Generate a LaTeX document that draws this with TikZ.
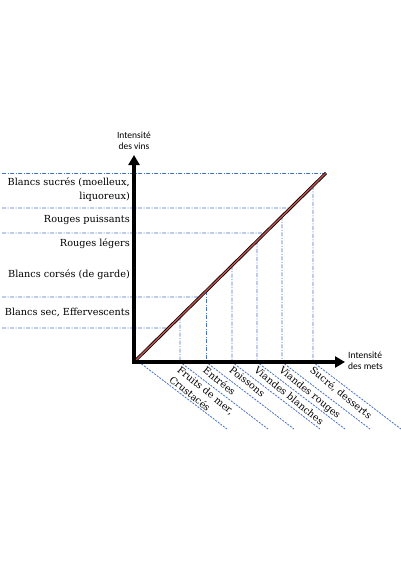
\documentclass[tikz,border=0pt]{standalone}
\usepackage{fontspec}
\setmainfont{DejaVu Serif}
\newfontfamily\axisfont{Carlito}
\usetikzlibrary{arrows.meta,calc}
\definecolor{guide}{RGB}{68,114,196}
\definecolor{diagred}{RGB}{192,80,77}
\begin{document}
\begin{tikzpicture}[x=1pt,y=-1pt,
  axis/.style={line width=3.5pt,line join=miter,{Triangle[length=10pt,width=11pt]}-{Triangle[length=10pt,width=11pt]}},
  guideline/.style={guide,line width=0.9pt,dash pattern=on 4pt off 1.5pt on 1pt off 1.5pt},
  slant/.style={guide,line width=0.8pt,dash pattern=on 2pt off 1.2pt},
  winelabel/.style={font=\fontsize{9.7}{14}\selectfont,anchor=east,align=right,inner sep=0pt},
  foodlabel/.style={font=\fontsize{9.7}{12.5}\selectfont,anchor=north west,rotate=-39,inner sep=1pt,align=left},
  axislabel/.style={font=\axisfont\fontsize{9.5}{11}\selectfont,inner sep=0pt}]
\useasboundingbox (0,0) rectangle (400,562);

% main points
\coordinate (O) at (134,362);
\coordinate (D) at (326,173);
\coordinate (Ytop) at (134,155);
\coordinate (Xend) at (345,362);

% horizontal guides
\coordinate (hL1) at (2,173); \coordinate (hR1) at ($(O)!1!(D)$);
\coordinate (hL2) at (2,208); \coordinate (hR2) at ($(O)!0.8148!(D)$);
\coordinate (hL3) at (2,233); \coordinate (hR3) at ($(O)!0.6825!(D)$);
\coordinate (hL4) at (2,297); \coordinate (hR4) at ($(O)!0.3439!(D)$);
\coordinate (hL5) at (2,328); \coordinate (hR5) at ($(O)!0.1799!(D)$);
\foreach \i in {1,...,5}{\draw[guideline] (hL\i) -- (hR\i);}

% vertical guides and slanted continuations
\coordinate (vT1) at ($(O)!0.2396!(D)$); \coordinate (vF1) at (180,362);
\coordinate (vT2) at ($(O)!0.3750!(D)$); \coordinate (vF2) at (206,362);
\coordinate (vT3) at ($(O)!0.5104!(D)$); \coordinate (vF3) at (232,362);
\coordinate (vT4) at ($(O)!0.6406!(D)$); \coordinate (vF4) at (257,362);
\coordinate (vT5) at ($(O)!0.7708!(D)$); \coordinate (vF5) at (282,362);
\coordinate (vT6) at ($(O)!0.9323!(D)$); \coordinate (vF6) at (313,362);
\coordinate (vF0) at (139,362);
\foreach \i in {1,...,6}{\draw[guideline] (vT\i) -- (vF\i);}
\foreach \i in {0,...,6}{
  \coordinate (sE\i) at ($(vF\i)+(88,67)$);
  \draw[slant] (vF\i) -- (sE\i);}

% diagonal
\draw[line width=3pt,black] (O) -- (D);
\draw[line width=1.4pt,diagred] (O) -- (D);

% axes
\draw[axis] (Ytop) -- (O) -- (Xend);

% axis labels
\node[axislabel,align=center] (ylab) at (134,141) {Intensité\\des vins};
\node[axislabel,align=left,anchor=west] (xlab) at (348,361) {Intensité\\des mets};

% wine labels
\node[winelabel] (w1) at (130,190) {Blancs sucrés (moelleux,\\liquoreux)};
\node[winelabel] (w2) at (130,220) {Rouges puissants};
\node[winelabel] (w3) at (130,244) {Rouges légers};
\node[winelabel] (w4) at (130,275) {Blancs corsés (de garde)};
\node[winelabel] (w5) at (130,312) {Blancs sec, Effervescents};

% food labels
\node[foodlabel] (f1) at ($(vF1)+(1,2)$) {Fruits de mer,\\Crustacés};
\node[foodlabel] (f2) at ($(vF2)+(1,2)$) {Entrées};
\node[foodlabel] (f3) at ($(vF3)+(1,2)$) {Poissons};
\node[foodlabel] (f4) at ($(vF4)+(1,2)$) {Viandes blanches};
\node[foodlabel] (f5) at ($(vF5)+(1,2)$) {Viandes rouges};
\node[foodlabel] (f6) at ($(vF6)+(1,2)$) {Sucré, desserts};
\end{tikzpicture}
\end{document}
